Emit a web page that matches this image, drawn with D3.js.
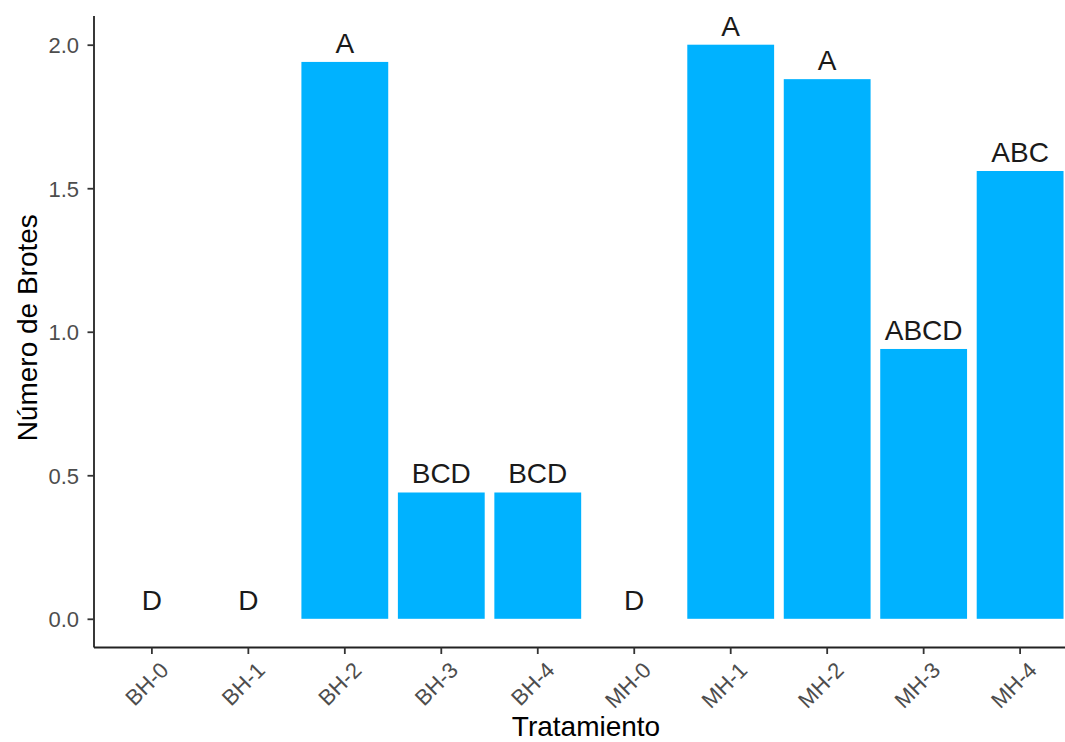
<!DOCTYPE html>
<html>
<head>
<meta charset="utf-8">
<script src="https://cdn.jsdelivr.net/npm/d3@7"></script>
<style>
  html, body { margin: 0; padding: 0; background: #fff; }
  svg { display: block; font-family: "Liberation Sans", Arial, sans-serif; }
</style>
</head>
<body>
<svg id="chart" width="1065" height="742"></svg>
<script>
// Mean number of shoots per treatment, with significance group letters
const tratamientos = ["BH-0", "BH-1", "BH-2", "BH-3", "BH-4", "MH-0", "MH-1", "MH-2", "MH-3", "MH-4"];
const brotes = [0, 0, 1.94, 0.44, 0.44, 0, 2.0, 1.88, 0.94, 1.56];
const grupos = ["D", "D", "A", "BCD", "BCD", "D", "A", "A", "ABCD", "ABC"];
const yTicks = [0, 0.5, 1.0, 1.5, 2.0];

const svg = d3.select("#chart");
svg.append("rect").attr("width", 1065).attr("height", 742).attr("fill", "#fff");

const panelLeft = 94, panelRight = 1078, panelTop = 16, panelBottom = 647.5;

const x = d3.scaleBand()
  .domain(tratamientos)
  .range([panelLeft, panelRight])
  .paddingInner(0.1)
  .paddingOuter(0.15);

const y = d3.scaleLinear()
  .domain([-0.1, 2.1])
  .range([panelBottom, panelTop]);

const data = tratamientos.map((t, i) => ({ t, v: brotes[i], g: grupos[i] }));

// bars
svg.append("g").selectAll("rect")
  .data(data)
  .join("rect")
  .attr("x", d => x(d.t))
  .attr("width", x.bandwidth())
  .attr("y", d => y(Math.max(0, d.v)))
  .attr("height", d => Math.abs(y(d.v) - y(0)))
  .attr("fill", "#00B2FF");

// group letters above bars
svg.append("g").selectAll("text")
  .data(data)
  .join("text")
  .attr("x", d => x(d.t) + x.bandwidth() / 2)
  .attr("y", d => y(d.v) - 9)
  .attr("text-anchor", "middle")
  .attr("font-size", 28)
  .attr("fill", "#1a1a1a")
  .text(d => d.g);

// y axis
const yAxis = svg.append("g")
  .attr("transform", `translate(${panelLeft},0)`)
  .call(d3.axisLeft(y).tickValues(yTicks).tickFormat(d3.format(".1f")).tickSize(6.5).tickPadding(8.5));
yAxis.select(".domain").attr("stroke", "#222").attr("stroke-width", 1.8).attr("d", `M0,${panelTop}V${panelBottom}`);
yAxis.selectAll(".tick line").attr("stroke", "#333").attr("stroke-width", 1.8);
yAxis.selectAll(".tick text")
  .attr("font-size", 22)
  .attr("fill", "#4d4d4d")
  .attr("font-family", "Liberation Sans, Arial, sans-serif")
  .attr("dy", "0.36em");

// x axis
const xAxis = svg.append("g")
  .attr("transform", `translate(0,${panelBottom})`)
  .call(d3.axisBottom(x).tickSize(6.5));
xAxis.select(".domain").attr("stroke", "#222").attr("stroke-width", 1.8).attr("d", `M${panelLeft},0H${panelRight}`);
xAxis.selectAll(".tick line").attr("stroke", "#333").attr("stroke-width", 1.8);
xAxis.selectAll(".tick text")
  .attr("font-size", 22)
  .attr("fill", "#4d4d4d")
  .attr("font-family", "Liberation Sans, Arial, sans-serif")
  .attr("text-anchor", "end")
  .attr("x", 0)
  .attr("y", 0)
  .attr("dy", "0.71em")
  .attr("transform", "translate(7,13) rotate(-45)");

// axis titles
svg.append("text")
  .attr("x", (panelLeft + panelRight) / 2)
  .attr("y", 736)
  .attr("text-anchor", "middle")
  .attr("font-size", 28)
  .attr("fill", "#000")
  .text("Tratamiento");

svg.append("text")
  .attr("transform", `translate(37,${(panelTop + panelBottom) / 2 - 4}) rotate(-90)`)
  .attr("text-anchor", "middle")
  .attr("font-size", 28)
  .attr("fill", "#000")
  .text("Número de Brotes");
</script>
</body>
</html>
